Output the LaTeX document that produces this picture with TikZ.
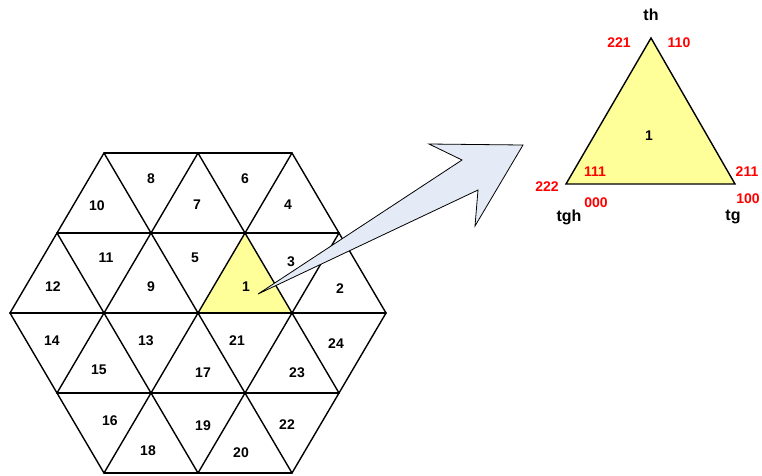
\documentclass[tikz,border=0pt]{standalone}
\usepackage{fontspec}
\setmainfont{Liberation Sans}
\definecolor{tri}{HTML}{FFFF99}
\definecolor{arr}{HTML}{E4EBF6}
\definecolor{lab}{HTML}{FF0000}
\begin{document}
\begin{tikzpicture}[x=1pt,y=-1pt,
  grid/.style={line width=1.4pt,line cap=round,line join=round},
  num/.style={font=\bfseries\fontsize{14}{16}\selectfont,inner sep=0pt},
  code/.style={font=\bfseries\fontsize{14}{16}\selectfont,text=lab,inner sep=0pt},
  corner/.style={font=\bfseries\fontsize{16}{18}\selectfont,inner sep=0pt}]
\useasboundingbox (0,0) rectangle (762,475);
% highlighted triangle
\coordinate (A) at (245,233);
\coordinate (B) at (198,313);
\coordinate (C) at (292,313);
\fill[tri] (A) -- (B) -- (C) -- cycle;
% grid lines
\draw[grid] (104,153) -- (292,153);
\draw[grid] (57,233) -- (339,233);
\draw[grid] (10,313) -- (386,313);
\draw[grid] (57,393) -- (339,393);
\draw[grid] (104,473) -- (292,473);
\draw[grid] (104,153) -- (292,473);
\draw[grid] (198,153) -- (339,393);
\draw[grid] (292,153) -- (386,313);
\draw[grid] (57,233) -- (198,473);
\draw[grid] (10,313) -- (104,473);
\draw[grid] (292,153) -- (104,473);
\draw[grid] (198,153) -- (57,393);
\draw[grid] (104,153) -- (10,313);
\draw[grid] (339,233) -- (198,473);
\draw[grid] (386,313) -- (292,473);
% numbers
\node[num] (n8) at (151,179) {8};
\node[num] (n10) at (97,206) {10};
\node[num] (n7) at (197,205) {7};
\node[num] (n6) at (245,179) {6};
\node[num] (n4) at (288,205) {4};
\node[num] (n11) at (106,258) {11};
\node[num] (n5) at (195,258) {5};
\node[num] (n12) at (53,287) {12};
\node[num] (n9) at (151,287) {9};
\node[num] (n1) at (246,287) {1};
\node[num] (n3) at (291,262) {3};
\node[num] (n2) at (340,289) {2};
\node[num] (n14) at (52,341) {14};
\node[num] (n13) at (146,341) {13};
\node[num] (n21) at (237,341) {21};
\node[num] (n24) at (336,344) {24};
\node[num] (n15) at (99,370) {15};
\node[num] (n17) at (203,373) {17};
\node[num] (n23) at (297,373) {23};
\node[num] (n16) at (110,421) {16};
\node[num] (n19) at (203,426) {19};
\node[num] (n22) at (287,425) {22};
\node[num] (n18) at (148,451) {18};
\node[num] (n20) at (241,453) {20};
% arrow
\coordinate (t0) at (258,294);
\coordinate (t1) at (462,160);
\coordinate (t2) at (429,144);
\coordinate (t3) at (523,145);
\coordinate (t4) at (475,226);
\coordinate (t5) at (478,190);
\draw[fill=arr,line width=0.8pt,line join=miter] (t0) -- (t1) -- (t2) -- (t3) -- (t4) -- (t5) -- cycle;
% enlarged triangle
\coordinate (P) at (651,38);
\coordinate (Q) at (566,184);
\coordinate (R) at (735,184);
\draw[fill=tri,line width=1.4pt,line join=miter] (P) -- (Q) -- (R) -- cycle;
\node[num] (big1) at (649,136) {1};
\node[corner] (th) at (651,15) {th};
\node[corner] (tgh) at (569,217) {tgh};
\node[corner] (tg) at (733,217) {tg};
\node[code] (c221) at (619,43) {221};
\node[code] (c110) at (679,43) {110};
\node[code] (c111) at (595,172) {111};
\node[code] (c211) at (747,172) {211};
\node[code] (c222) at (547,187) {222};
\node[code] (c000) at (596,203) {000};
\node[code] (c100) at (748,199) {100};
\end{tikzpicture}
\end{document}
